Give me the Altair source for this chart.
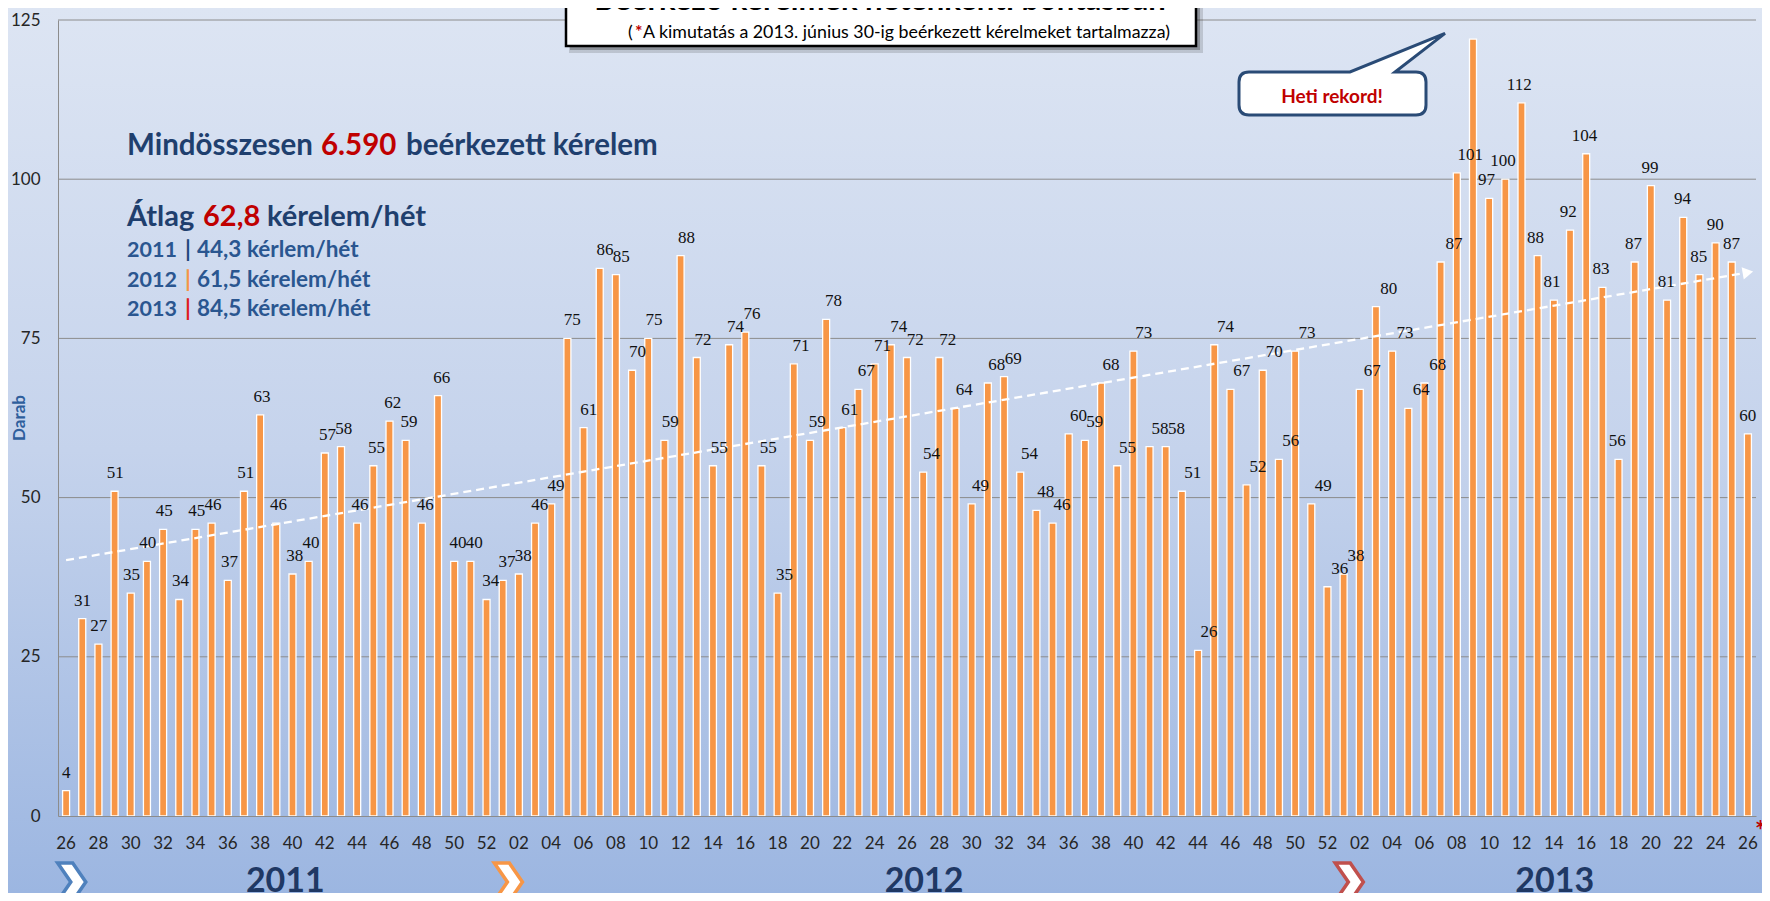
import altair as alt
import pandas as pd

# ---------------- data ----------------
weeks_2011 = ["26", "27", "28", "29", "30", "31", "32", "33", "34", "35", "36", "37", "38", "39",
              "40", "41", "42", "43", "44", "45", "46", "47", "48", "49", "50", "51", "52"]
values_2011 = [4, 31, 27, 51, 35, 40, 45, 34, 45, 46, 37, 51, 63, 46, 38, 40, 57, 58, 46, 55,
               62, 59, 46, 66, 40, 40, 34]

weeks_2012 = ["01", "02", "03", "04", "05", "06", "07", "08", "09", "10", "11", "12", "13",
              "14", "15", "16", "17", "18", "19", "20", "21", "22", "23", "24", "25", "26",
              "27", "28", "29", "30", "31", "32", "33", "34", "35", "36", "37", "38", "39",
              "40", "41", "42", "43", "44", "45", "46", "47", "48", "49", "50", "51", "52"]
values_2012 = [37, 38, 46, 49, 75, 61, 86, 85, 70, 75, 59, 88, 72, 55, 74, 76, 55, 35, 71, 59,
               78, 61, 67, 71, 74, 72, 54, 72, 64, 49, 68, 69, 54, 48, 46, 60, 59, 68, 55, 73,
               58, 58, 51, 26, 74, 67, 52, 70, 56, 73, 49, 36]

weeks_2013 = ["01", "02", "03", "04", "05", "06", "07", "08", "09", "10", "11", "12", "13",
              "14", "15", "16", "17", "18", "19", "20", "21", "22", "23", "24", "25", "26"]
values_2013 = [38, 67, 80, 73, 64, 68, 87, 101, 122, 97, 100, 112, 88, 81, 92, 104, 83, 56,
               87, 99, 81, 94, 85, 90, 87, 60]

years = ["2011", "2012", "2013"]
year_colors = ["#4F81BD", "#F79646", "#C0504D"]
y_ticks = [0, 25, 50, 75, 100, 125]
grid_values = [25, 50, 75, 100, 125]

rows = []
i = 0
for yr, wks, vals in zip(years, [weeks_2011, weeks_2012, weeks_2013],
                         [values_2011, values_2012, values_2013]):
    for w, v in zip(wks, vals):
        rows.append({"key": f"{yr}-{w}", "week": w, "year": yr, "idx": i, "value": v})
        i += 1
df = pd.DataFrame(rows)
keys = list(df["key"])
n = len(df)

# ---------------- layout ----------------
W, H = 1698, 796
PAD = {"left": 50, "top": 12, "right": 6, "bottom": 77}

NAVY = "#1F3F6E"
BLUE2 = "#2A5690"
RED = "#C00000"

ys = alt.Scale(domain=[0, 125], nice=False, zero=True)
xq = alt.Scale(domain=[-0.5, n - 0.5], nice=False, zero=False)
band = alt.Scale(paddingInner=0, paddingOuter=0)

one = alt.Data(values=[{"a": 1}])


def txt(text, x, y, size, color, weight="bold", align="left", font="Lato", angle=0, baseline="alphabetic"):
    return alt.Chart(alt.Data(values=[{"t": text}])).mark_text(
        align=align, baseline=baseline, font=font, fontSize=size, fontWeight=weight,
        color=color, angle=angle
    ).encode(x=alt.value(x), y=alt.value(y), text="t:N")


grad = alt.Gradient(
    gradient="linear",
    stops=[alt.GradientStop(color="#DDE5F3", offset=0),
           alt.GradientStop(color="#C5D3EC", offset=0.5),
           alt.GradientStop(color="#9CB6E1", offset=1)],
    x1=0, x2=0, y1=0, y2=1)

bg = alt.Chart(one).mark_rect(color=grad).encode(
    x=alt.value(-PAD["left"]), x2=alt.value(W + PAD["right"]),
    y=alt.value(-PAD["top"]), y2=alt.value(H + PAD["bottom"]))

y_axis = alt.Axis(values=y_ticks, grid=False, ticks=False, domainColor="#8C8C8C", labelFont="Lato",
                  labelFontSize=17, labelColor="#262626", labelPadding=18, title=None, zindex=1)
x_axis = alt.Axis(
    labelExpr="toNumber(split(datum.value, '-')[1]) % 2 == 0 ? split(datum.value, '-')[1] : ''",
    labelAngle=0, ticks=False, domainColor="#8C8C8C", labelFont="Lato", labelFontSize=17,
    labelColor="#262626", labelPadding=19, labelOverlap=False, title=None, grid=False, zindex=1)

grid = alt.Chart(pd.DataFrame({"v": grid_values})).mark_rule(color="#8C8C8C", strokeWidth=1).encode(
    y=alt.Y("v:Q", scale=ys, axis=y_axis))

base = alt.Chart(df)

bars = base.mark_bar(size=7, color="#F79646", stroke="white", strokeWidth=1.3).encode(
    x=alt.X("key:N", sort=keys, scale=band, axis=x_axis),
    y=alt.Y("value:Q", scale=ys, axis=y_axis))

trend = base.transform_regression("idx", "value", method="linear", extent=[0, n - 1]).mark_line(
    color="white", strokeWidth=2.3, strokeDash=[8, 5]).encode(
    x=alt.X("idx:Q", scale=xq, axis=None), y=alt.Y("value:Q", scale=ys, axis=y_axis))

arrow = base.transform_regression("idx", "value", method="linear", extent=[0, n - 1]).transform_joinaggregate(
    mx="max(idx)").transform_filter("datum.idx == datum.mx").mark_point(
    shape="triangle-right", filled=True, color="white", size=150, angle=350, opacity=1).encode(
    x=alt.X("idx:Q", scale=xq, axis=None), y=alt.Y("value:Q", scale=ys, axis=y_axis))

labels = base.transform_joinaggregate(mx="max(value)").transform_filter(
    "datum.value < datum.mx").mark_text(
    font="Liberation Serif", fontSize=17, baseline="alphabetic", dy=-13, color="#111111").encode(
    x=alt.X("key:N", sort=keys, scale=band, axis=None),
    y=alt.Y("value:Q", scale=ys, axis=y_axis),
    text="value:Q")

label_max = base.transform_joinaggregate(mx="max(value)").transform_filter(
    "datum.value == datum.mx").mark_text(
    font="Liberation Serif", fontSize=17, fontWeight="bold", baseline="alphabetic", dy=-13,
    color="#111111").encode(
    x=alt.X("key:N", sort=keys, scale=band, axis=None),
    y=alt.Y("value:Q", scale=ys, axis=y_axis),
    text="value:Q")

CHEV = "M -0.74 -1 L 0.05 -1 L 0.74 0 L 0.05 1 L -0.74 1 L -0.05 0 Z"
chev = base.transform_aggregate(first="min(idx)", groupby=["year"]).transform_calculate(
    pos="datum.first + 0.35").mark_point(
    shape=CHEV, size=1444, filled=True, fill="white", strokeWidth=3.5, opacity=1).encode(
    x=alt.X("pos:Q", scale=xq, axis=None), y=alt.value(H + 66),
    stroke=alt.Stroke("year:N", scale=alt.Scale(domain=years, range=year_colors), legend=None))

year_txt = base.transform_aggregate(mid="mean(idx)", groupby=["year"]).mark_text(
    font="Lato", fontWeight="bold", fontSize=34, color="#1F3864", baseline="alphabetic", dx=9).encode(
    x=alt.X("mid:Q", scale=xq, axis=None), y=alt.value(H + 76), text="year:N")

darab = txt("Darab", -38, 398, 17, "#2E5E9C", angle=270, align="center", baseline="middle")

# left info block
info = [
    txt("Mindösszesen", 69, 135, 29.5, NAVY),
    txt("6.590", 263, 135, 29.5, RED),
    txt("beérkezett kérelem", 348, 135, 29.5, NAVY),
    txt("Átlag", 69, 206, 29, NAVY),
    txt("62,8", 145, 206, 29, RED),
    txt("kérelem/hét", 209, 206, 29, NAVY),
    txt("2011", 69, 237, 21.5, BLUE2),
    txt("|", 130, 237, 22.5, "#1F497D", align="center"),
    txt("44,3 kérlem/hét", 139, 237, 22.5, BLUE2),
    txt("2012", 69, 267, 21.5, BLUE2),
    txt("|", 130, 267, 22.5, "#F79646", align="center"),
    txt("61,5 kérelem/hét", 139, 267, 22.5, BLUE2),
    txt("2013", 69, 296, 21.5, BLUE2),
    txt("|", 130, 296, 22.5, "#E0201B", align="center"),
    txt("84,5 kérelem/hét", 139, 296, 22.5, BLUE2),
]

# title box
shadow2 = alt.Chart(one).mark_rect(color="#333333", opacity=0.18).encode(
    x=alt.value(511), x2=alt.value(1145), y=alt.value(-20), y2=alt.value(33))
shadow1 = alt.Chart(one).mark_rect(color="#333333", opacity=0.35).encode(
    x=alt.value(512), x2=alt.value(1142), y=alt.value(-20), y2=alt.value(30))
tbox = alt.Chart(one).mark_rect(color="white", stroke="black", strokeWidth=2.5).encode(
    x=alt.value(508), x2=alt.value(1138), y=alt.value(-20), y2=alt.value(26))
title = txt("Beérkező kérelmek hetenkénti bontásban", 822, -10, 31, "black", align="center")
sub1 = txt("(", 570, 18, 17.8, "black", weight="normal")
sub2 = txt("*", 577, 18, 17.8, RED, weight="bold")
sub3 = txt("A kimutatás a 2013. június 30-ig beérkezett kérelmeket tartalmazza)", 585, 18, 17.8, "black",
           weight="normal")

BUBBLE = ("M -0.903 -0.0194 L 0.0777 -0.0194 L 1 -0.395 L 0.5146 -0.0194 L 0.7185 -0.0194 "
          "Q 0.8155 -0.0194 0.8155 0.0777 L 0.8155 0.301 Q 0.8155 0.398 0.7185 0.398 "
          "L -0.903 0.398 Q -1 0.398 -1 0.301 L -1 0.0777 Q -1 -0.0194 -0.903 -0.0194 Z")
bubble = alt.Chart(one).mark_point(shape=BUBBLE, size=42436, filled=True, fill="white",
                                   stroke="#2A4B76", strokeWidth=3, opacity=1).encode(
    x=alt.value(1284), y=alt.value(54))
bubble_txt = txt("Heti rekord!", 1274, 83, 19, RED, align="center")

star = txt("*", 1697, 820, 26, RED)

chart = alt.layer(
    bg, grid, bars, trend, arrow, labels, label_max, chev, year_txt, darab, *info,
    shadow2, shadow1, tbox, title, sub1, sub2, sub3, bubble, bubble_txt, star
).resolve_scale(x="independent").properties(
    width=W, height=H, padding=PAD, autosize=alt.AutoSizeParams(type="none")
).configure(background="#DDE5F3").configure_view(stroke=None)

chart.save("out.html", embed_options={"renderer": "svg", "actions": False})
